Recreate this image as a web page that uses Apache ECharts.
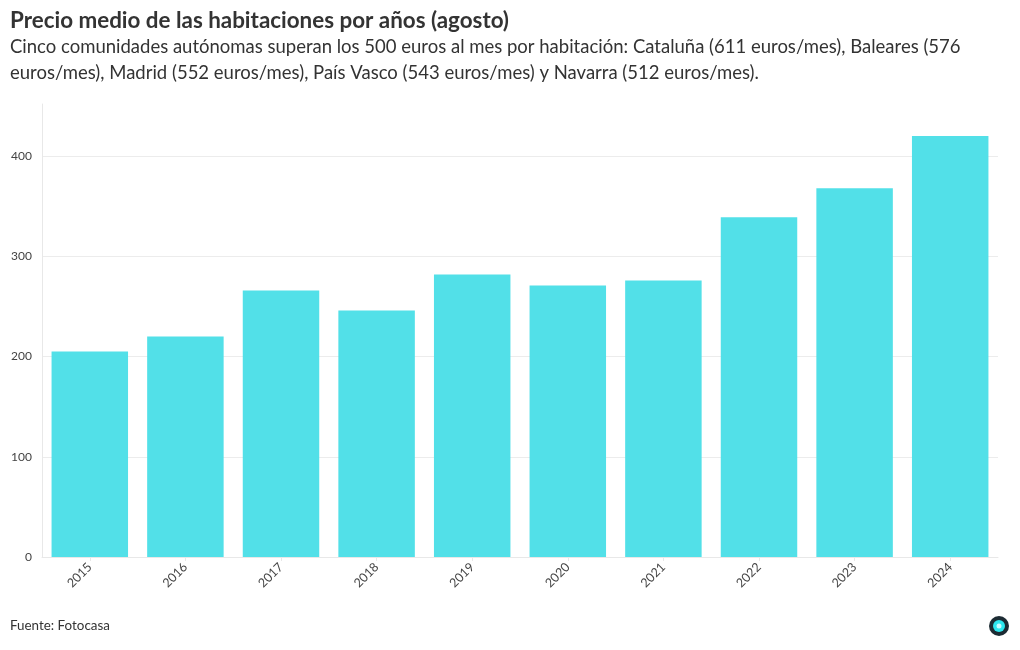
<!DOCTYPE html>
<html>
<head>
<meta charset="utf-8">
<script src="https://cdn.jsdelivr.net/npm/echarts@6/dist/echarts.min.js"></script>
<style>html,body{margin:0;padding:0;background:#fff}#c{width:1020px;height:650px}</style>
</head>
<body>
<div id="c"></div>
<script>
const years = ['2015','2016','2017','2018','2019','2020','2021','2022','2023','2024'];
const prices = [205, 220, 266, 246, 282, 271, 276, 339, 368, 420];
const yTicks = [0, 100, 200, 300, 400];

const titleText = 'Precio medio de las habitaciones por años (agosto)';
const subtitleText = 'Cinco comunidades autónomas superan los 500 euros al mes por habitación: Cataluña (611 euros/mes), Baleares (576\neuros/mes), Madrid (552 euros/mes), País Vasco (543 euros/mes) y Navarra (512 euros/mes).';
const sourceText = 'Fuente: Fotocasa';

const FONT = 'Lato, "Noto Sans", sans-serif';
const chart = echarts.init(document.getElementById('c'));
chart.setOption({
  animation: false,
  backgroundColor: '#ffffff',
  title: {
    text: titleText,
    subtext: subtitleText,
    left: 10, top: 10,
    padding: 0,
    itemGap: 2,
    textStyle: {fontFamily: FONT, fontSize: 22.4, fontWeight: 'bold', color: '#333333'},
    subtextStyle: {fontFamily: FONT, fontSize: 18.5, color: '#333333', lineHeight: 26}
  },
  graphic: [
    {type: 'text', left: 10, top: 619, style: {text: sourceText, font: '13.4px ' + FONT, fill: '#333333'}},
    {type: 'circle', shape: {cx: 999, cy: 626, r: 10}, style: {fill: '#1c2b33'}},
    {type: 'circle', shape: {cx: 999, cy: 626, r: 6}, style: {fill: '#2de6ee'}},
    {type: 'circle', shape: {cx: 999, cy: 626, r: 2.5}, style: {fill: '#c8fbff'}}
  ],
  grid: {left: 42, right: 22, top: 104, bottom: 93, containLabel: false},
  xAxis: {
    type: 'category',
    data: years,
    axisLine: {show: true, lineStyle: {color: '#e8e8e8'}},
    axisTick: {show: true, alignWithLabel: true, length: 4, lineStyle: {color: '#e8e8e8'}},
    axisLabel: {rotate: 45, fontFamily: FONT, fontSize: 12.5, color: '#444444', margin: 8}
  },
  yAxis: {
    type: 'value',
    min: 0, max: 452, interval: 100,
    axisLine: {show: true, lineStyle: {color: '#e8e8e8'}},
    axisTick: {show: false},
    splitLine: {show: true, showMaxLine: false, lineStyle: {color: '#ececec'}},
    axisLabel: {
      fontFamily: FONT, fontSize: 12, color: '#444444', margin: 10,
      formatter: v => (yTicks.indexOf(v) >= 0 ? String(v) : '')
    }
  },
  series: [{
    type: 'bar',
    data: prices,
    barCategoryGap: '20%',
    itemStyle: {color: '#52e0e8'}
  }]
});
</script>
</body>
</html>
